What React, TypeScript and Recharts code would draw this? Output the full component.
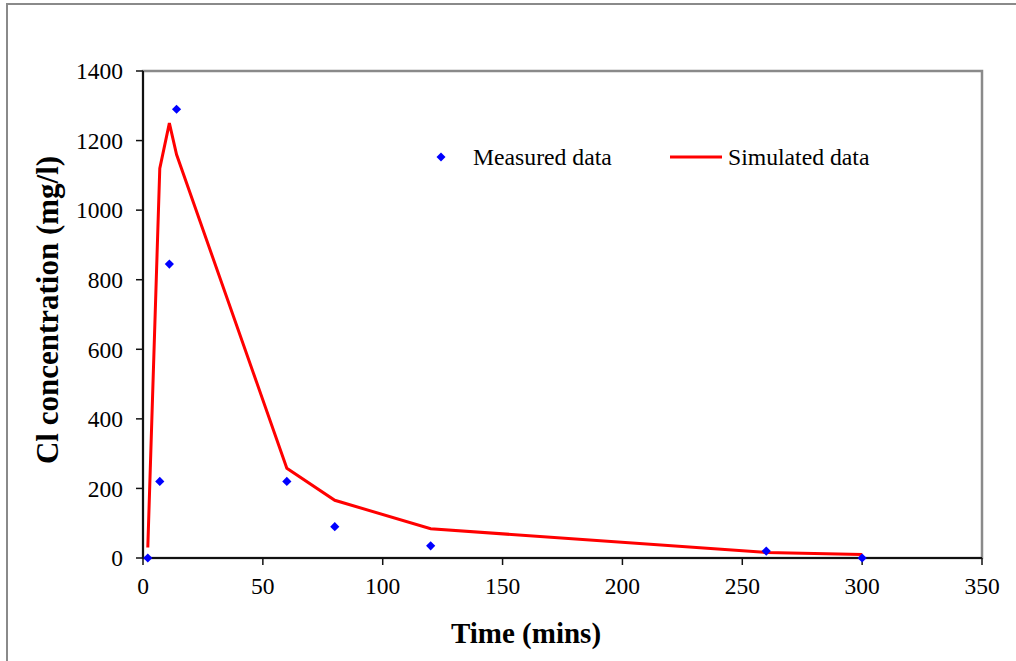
import React from 'react';
import {
  ComposedChart,
  Line,
  Scatter,
  XAxis,
  YAxis,
  Legend,
  ReferenceArea,
  Label,
} from 'recharts';

const measuredTime = [2, 7, 11, 14, 60, 80, 120, 260, 300];
const measuredCl = [0, 220, 845, 1290, 220, 90, 35, 20, 0];

const simulatedTime = [2, 7, 11, 14, 60, 80, 120, 260, 300];
const simulatedCl = [30, 1120, 1250, 1160, 258, 166, 84, 16, 10];

const xTicks = [0, 50, 100, 150, 200, 250, 300, 350];
const yTicks = [0, 200, 400, 600, 800, 1000, 1200, 1400];

const measured = measuredTime.map((t, i) => ({ x: t, y: measuredCl[i] }));
const simulated = simulatedTime.map((t, i) => ({ x: t, y: simulatedCl[i] }));

const FONT = '"Liberation Serif", "Times New Roman", serif';

const Diamond = (props: any) => {
  const { cx, cy } = props;
  if (cx == null || cy == null) return null;
  const r = 4.6;
  return (
    <polygon
      points={`${cx},${cy - r} ${cx + r},${cy} ${cx},${cy + r} ${cx - r},${cy}`}
      fill="#0000FF"
    />
  );
};

const renderLegend = (props: any) => {
  const payload = props.payload || [];
  const measuredItem = payload.find((p: any) => p.type === 'diamond') || { value: 'Measured data' };
  const simItem = payload.find((p: any) => p.type === 'line') || { value: 'Simulated data' };
  return (
    <svg width={1016} height={40} style={{ display: 'block' }}>
      <polygon points="441,15.5 445.5,20 441,24.5 436.5,20" fill="#0000FF" />
      <text x={473} y={20} dominantBaseline="central" fontFamily={FONT} fontSize={23.7} fill="#000">
        {measuredItem.value}
      </text>
      <line x1={670} y1={20} x2={722} y2={20} stroke="#FF0000" strokeWidth={3} />
      <text x={728} y={20} dominantBaseline="central" fontFamily={FONT} fontSize={23.7} fill="#000">
        {simItem.value}
      </text>
    </svg>
  );
};

export default function App() {
  return (
    <div
      style={{
        position: 'absolute',
        left: 0,
        top: 0,
        width: 1016,
        height: 661,
        overflow: 'hidden',
        background: '#fff',
      }}
    >
      <div
        style={{
          position: 'absolute',
          left: 6,
          top: 3,
          width: 1200,
          height: 900,
          borderLeft: '2px solid #8a8a8a',
          borderTop: '2px solid #8a8a8a',
        }}
      />
      <div style={{ position: 'absolute', left: 0, top: 0 }}>
        <ComposedChart
          width={1016}
          height={661}
          margin={{ top: 71, right: 34, bottom: 0, left: 0 }}
          style={{ fontFamily: FONT }}
        >
          <ReferenceArea
            x1={0}
            x2={350}
            y1={0}
            y2={1400}
            fill="none"
            stroke="#8a8a8a"
            strokeWidth={2.5}
            ifOverflow="visible"
          />
          <XAxis
            type="number"
            dataKey="x"
            domain={[0, 350]}
            ticks={xTicks}
            height={103}
            axisLine={{ stroke: '#111', strokeWidth: 2 }}
            tickLine={{ stroke: '#111', strokeWidth: 1.5 }}
            tickSize={7}
            tickMargin={12}
            tick={{ fill: '#000', fontSize: 23.5, fontFamily: FONT }}
          >
            <Label
              content={() => (
                <text
                  x={526}
                  y={633}
                  textAnchor="middle"
                  dominantBaseline="central"
                  fontFamily={FONT}
                  fontSize={29}
                  fontWeight="bold"
                  fill="#000"
                >
                  Time (mins)
                </text>
              )}
            />
          </XAxis>
          <YAxis
            type="number"
            dataKey="y"
            domain={[0, 1400]}
            ticks={yTicks}
            width={143}
            axisLine={{ stroke: '#111', strokeWidth: 2 }}
            tickLine={{ stroke: '#111', strokeWidth: 1.5 }}
            tickSize={7}
            tickMargin={13}
            tick={{ fill: '#000', fontSize: 23.5, fontFamily: FONT }}
          >
            <Label
              content={() => (
                <text
                  x={47}
                  y={310}
                  textAnchor="middle"
                  dominantBaseline="central"
                  transform="rotate(-90, 47, 310)"
                  fontFamily={FONT}
                  fontSize={31}
                  fontWeight="bold"
                  fill="#000"
                >
                  Cl concentration (mg/l)
                </text>
              )}
            />
          </YAxis>
          <Legend
            layout="horizontal"
            verticalAlign="middle"
            align="center"
            content={renderLegend}
            wrapperStyle={{ position: 'absolute', left: 0, top: 137, width: 1016, height: 40 }}
          />
          <Line
            name="Simulated data"
            data={simulated}
            dataKey="y"
            type="linear"
            stroke="#FF0000"
            strokeWidth={3}
            dot={false}
            activeDot={false}
            legendType="line"
            isAnimationActive={false}
          />
          <Scatter
            name="Measured data"
            data={measured}
            dataKey="y"
            legendType="diamond"
            shape={Diamond}
            fill="#0000FF"
            isAnimationActive={false}
          />
        </ComposedChart>
      </div>
    </div>
  );
}
